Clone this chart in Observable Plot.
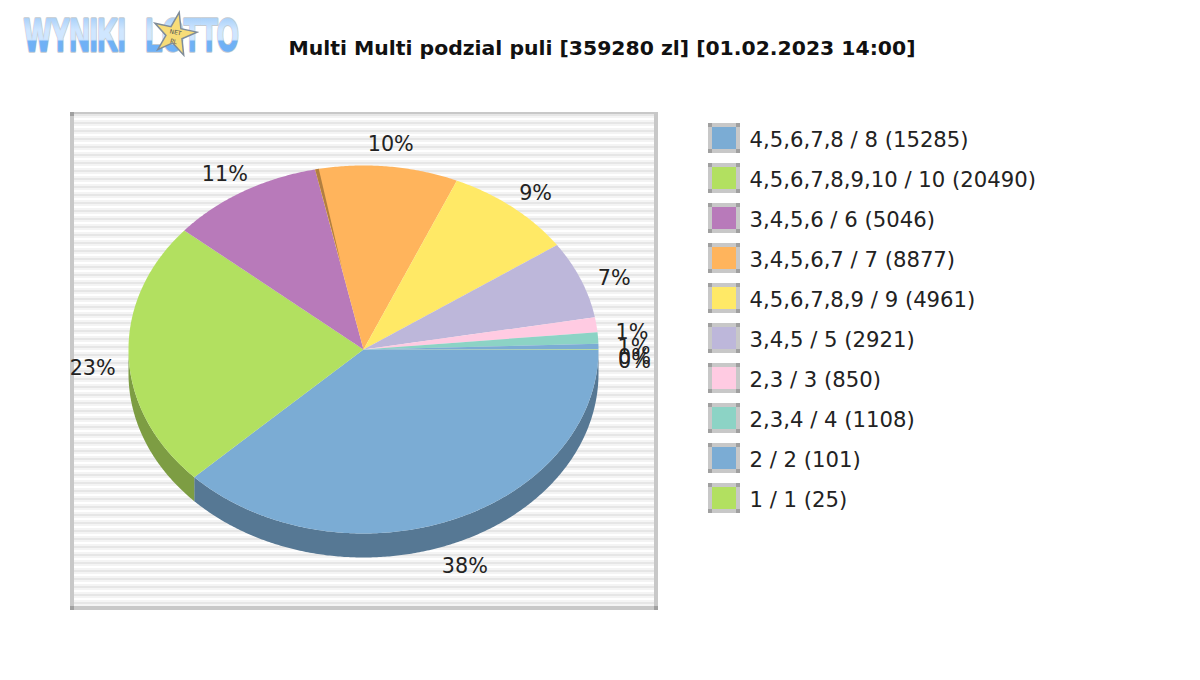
<!DOCTYPE html>
<html><head><meta charset="utf-8">
<style>html,body{margin:0;padding:0;background:#fff}svg{display:block}</style>
<script src="https://cdn.jsdelivr.net/npm/d3@7"></script>
<script src="https://cdn.jsdelivr.net/npm/@observablehq/plot@0.6"></script>
</head><body><div id="chart"></div>
<script>
const title = "Multi Multi podzial puli [359280 zl] [01.02.2023 14:00]";
const categories = ["4,5,6,7,8 / 8 (15285)","4,5,6,7,8,9,10 / 10 (20490)","3,4,5,6 / 6 (5046)","3,4,5,6,7 / 7 (8877)","4,5,6,7,8,9 / 9 (4961)","3,4,5 / 5 (2921)","2,3 / 3 (850)","2,3,4 / 4 (1108)","2 / 2 (101)","1 / 1 (25)"];
const shares = [37.8,23.4,10.5,9.8,8.9,6.8,1.3,1.0,0.45,0.05];
const sliceLabels = ["38%","23%","11%","10%","9%","7%","1%","1%","0%","0%"];
const palette = ["#7bacd4","#b2e060","#b87aba","#ffb45c","#ffe966","#bdb7da","#ffcbe2","#8cd3c5","#7bacd4","#b2e060"];

// layout
const cx=363, cy=349, rx=235, ry=184, depth=24;
const rim=(deg,k=1,dy=0)=>{const t=deg*Math.PI/180;return {x:cx+rx*k*Math.cos(t),y:cy+ry*k*Math.sin(t)+dy};};
const total=d3.sum(shares);
let acc=0;
const slices=shares.map((v,i)=>{const a0=acc/total*360;acc+=v;return {i,a0,a1:acc/total*360,color:palette[i],label:sliceLabels[i],mid:(a0+acc/total*360)/2};});
const arc=(a0,a1)=>{const n=Math.max(2,Math.ceil((a1-a0)/0.5));return d3.range(n+1).map(j=>a0+(a1-a0)*j/n);};

const topPts=slices.flatMap(s=>[{x:cx,y:cy,s:s.i,color:s.color},...arc(s.a0,s.a1).map(a=>({...rim(a),s:s.i,color:s.color}))]);
const wallPts=slices.filter(s=>s.a0<180).flatMap(s=>{
  const as=arc(s.a0,Math.min(s.a1,180));
  const c=d3.color(s.color);const dark=d3.rgb(c.r*.7,c.g*.7,c.b*.7).formatHex();
  return [...as.map(a=>({...rim(a),s:s.i,color:dark})),...as.slice().reverse().map(a=>({...rim(a,1,depth),s:s.i,color:dark}))];
});
const sliver=[rim(slices[3].a0),rim(slices[3].a0+0.9),rim(slices[3].a0+0.2,0.45)];

const labelPos=slices.map(s=>{const t=s.mid*Math.PI/180,c=Math.cos(t),n=Math.sin(t);
  return {x:cx+271*c,y:cy+206*n+12*(1-Math.abs(n))+(n>0?27*n:0),label:s.label};});

const frame={x1:70,x2:658,y1:112,y2:610};
const stripeColors=["#e6e6e6","#f4f4f4","#ffffff","#f4f4f4"];
const stripes=d3.range(114,606,2).map((y,i)=>({y1:y,y2:y+2,c:stripeColors[i%4]}));
const legendRows=categories.map((name,i)=>({name,color:palette[i],y:138+40*i}));
const corners=legendRows.flatMap(d=>[[708,d.y-15],[736,d.y-15],[708,d.y+11],[736,d.y+11]].map(([x,y])=>({x,y})));
const frameCorners=[[70,112],[654,606],[70,606]].map(([x,y])=>({x,y}));

const defs=()=>{const svg=d3.create("svg:defs");
  const g=svg.append("linearGradient").attr("id","lg").attr("x1",0).attr("x2",0).attr("y1",0).attr("y2",1);
  [[0,"#8fc2f5"],[.4,"#cfe6ff"],[.58,"#cfe6ff"],[.62,"#6fb1f6"],[1,"#6fb1f6"]].forEach(([o,c])=>g.append("stop").attr("offset",o).attr("stop-color",c));
  return svg.node();};

const logoFont="Liberation Sans";
const logo=(word,x,cls)=>[
  Plot.text([word],{x:()=>x,y:()=>36,text:d=>d,textAnchor:"start",fontSize:46,fontFamily:logoFont,fontWeight:"bold",fill:"#c4cad0",stroke:"#c4cad0",strokeWidth:3.5,className:cls}),
  Plot.text([word],{x:()=>x,y:()=>36,text:d=>d,textAnchor:"start",fontSize:46,fontFamily:logoFont,fontWeight:"bold",fill:"url(#lg)",stroke:"url(#lg)",strokeWidth:1.5,className:cls})
];
const chart=Plot.plot({
  width:1200,height:680,margin:0,
  x:{axis:null,domain:[0,1200],range:[0,1200]},
  y:{axis:null,domain:[0,680],range:[0,680]},
  style:{background:"#fff",fontFamily:"DejaVu Sans"},
  marks:[
    defs,
    Plot.rect([frame],{x1:"x1",x2:"x2",y1:"y1",y2:"y2",fill:"#c8c8c8",inset:0,shapeRendering:"crispEdges"}),
    Plot.rect(frameCorners,{x1:"x",x2:d=>d.x+4,y1:"y",y2:d=>d.y+4,fill:"#a0a0a0",inset:0,shapeRendering:"crispEdges"}),
    Plot.rect(stripes,{x1:()=>74,x2:()=>654,y1:"y1",y2:"y2",fill:"c",inset:0,shapeRendering:"crispEdges"}),
    Plot.line(wallPts,{x:"x",y:"y",z:"s",fill:"color",stroke:null}),
    Plot.line(topPts,{x:"x",y:"y",z:"s",fill:"color",stroke:null}),
    Plot.line(sliver,{x:"x",y:"y",fill:"#b27f40",stroke:null}),
    Plot.text(labelPos,{x:"x",y:"y",text:"label",fontSize:20.7,fill:"#222"}),
    Plot.text([title],{x:()=>601.5,y:()=>48,text:d=>d,fontSize:20,fontWeight:"bold",fill:"#111",className:"ttl"}),
    Plot.rect(legendRows,{x1:()=>708,x2:()=>740,y1:d=>d.y-15,y2:d=>d.y+15,fill:"#c8c8c8",inset:0,shapeRendering:"crispEdges"}),
    Plot.rect(corners,{x1:"x",x2:d=>d.x+4,y1:"y",y2:d=>d.y+4,fill:"#a0a0a0",inset:0,shapeRendering:"crispEdges"}),
    Plot.rect(legendRows,{x1:()=>712,x2:()=>736,y1:d=>d.y-11,y2:d=>d.y+11,fill:"color",inset:0,shapeRendering:"crispEdges"}),
    Plot.text(legendRows,{x:()=>749,y:d=>d.y+2,text:"name",textAnchor:"start",fontSize:21.2,fill:"#222"}),
    ...logo("WYNIKI",24,"lg1"),
    ...logo("LOTTO",145,"lg2"),
    Plot.dot([{x:174,y:34}],{x:"x",y:"y",symbol:"star",r:13.5,rotate:12,fill:"#f7dc78",stroke:"#7f8c99",strokeWidth:1.5}),
    Plot.text(["NET"],{x:()=>175,y:()=>32,text:d=>d,fontSize:6,fill:"#555",rotate:12}),
    Plot.text(["PL"],{x:()=>173,y:()=>41,text:d=>d,fontSize:6,fill:"#555",rotate:12})
  ]
});
document.getElementById("chart").append(chart);
d3.select(chart).selectAll(".lg1 text").attr("textLength",101).attr("lengthAdjust","spacingAndGlyphs");
d3.select(chart).selectAll(".lg2 text").attr("textLength",93).attr("lengthAdjust","spacingAndGlyphs");
d3.select(chart).selectAll(".ttl text").attr("textLength",627).attr("lengthAdjust","spacingAndGlyphs");
</script></body></html>
